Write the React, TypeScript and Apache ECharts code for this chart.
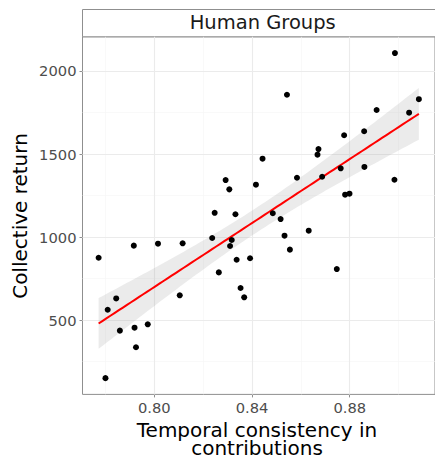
import React, { useEffect, useRef } from "react";
import * as echarts from "echarts";

// Temporal consistency in contributions (x) and collective return (y)
const consistency = [
  0.7772, 0.78, 0.7809, 0.7844, 0.7859, 0.7916, 0.7919, 0.7925, 0.7973, 0.8015,
  0.8104, 0.8116, 0.8237, 0.8247, 0.8264, 0.8292, 0.8307, 0.831, 0.8317, 0.8332,
  0.8337, 0.8353, 0.8368, 0.8392, 0.8416, 0.8443, 0.8485, 0.8517, 0.8533, 0.8543,
  0.8555, 0.8584, 0.8632, 0.8668, 0.8672, 0.8687, 0.8747, 0.8763, 0.8777, 0.8781,
  0.8799, 0.8859, 0.886, 0.891, 0.8983, 0.8985, 0.9043, 0.9083,
];
const collectiveReturn = [
  875, 150, 562, 630, 436, 948, 454, 336, 474, 960,
  649, 962, 994, 1146, 787, 1343, 1287, 946, 982, 1137,
  863, 693, 637, 872, 1315, 1472, 1143, 1108, 1008, 1857,
  924, 1357, 1038, 1496, 1530, 1363, 807, 1414, 1613, 1255,
  1261, 1637, 1422, 1765, 1345, 2108, 1749, 1830,
];

const xTicks = [0.8, 0.84, 0.88];
const xMinorGrid = [0.78, 0.82, 0.86, 0.9];
const yTicks = [500, 1000, 1500, 2000];
const yMinorGrid = [250, 750, 1250, 1750];

const panelTitle = "Human Groups";
const xTitle = "Temporal consistency in\ncontributions";
const yTitle = "Collective return";

const FONT = "DejaVu Sans";

// linear model fit (like geom_smooth(method = "lm")) with 95% CI
function fitLm() {
  const n = consistency.length;
  const xbar = consistency.reduce((a, b) => a + b, 0) / n;
  const ybar = collectiveReturn.reduce((a, b) => a + b, 0) / n;
  let sxx = 0, sxy = 0;
  for (let i = 0; i < n; i++) {
    sxx += (consistency[i] - xbar) ** 2;
    sxy += (consistency[i] - xbar) * (collectiveReturn[i] - ybar);
  }
  const b = sxy / sxx;
  const a = ybar - b * xbar;
  let sse = 0;
  for (let i = 0; i < n; i++) {
    const r = collectiveReturn[i] - (a + b * consistency[i]);
    sse += r * r;
  }
  const s = Math.sqrt(sse / (n - 2));
  const t = 2.0129;
  const xmin = Math.min(...consistency);
  const xmax = Math.max(...consistency);
  const line: number[][] = [];
  const upper: number[][] = [];
  const lower: number[][] = [];
  const steps = 80;
  for (let k = 0; k < steps; k++) {
    const x = xmin + ((xmax - xmin) * k) / (steps - 1);
    const y = a + b * x;
    const se = s * Math.sqrt(1 / n + (x - xbar) ** 2 / sxx);
    line.push([x, y]);
    upper.push([x, y + t * se]);
    lower.push([x, y - t * se]);
  }
  return { line, upper, lower };
}

export default function App() {
  const ref = useRef<HTMLDivElement>(null);
  useEffect(() => {
    if (!ref.current) return;
    const chart = echarts.init(ref.current, null, { renderer: "svg" });
    const { line, upper, lower } = fitLm();

    const major = { color: "#ebebeb", width: 1.1, type: "solid" };
    const minor = { color: "#f5f5f5", width: 0.6, type: "solid" };
    const gridLines = [
      ...xMinorGrid.map((v) => ({ xAxis: v, lineStyle: minor })),
      ...yMinorGrid.map((v) => ({ yAxis: v, lineStyle: minor })),
      ...xTicks.map((v) => ({ xAxis: v, lineStyle: major })),
      ...yTicks.map((v) => ({ yAxis: v, lineStyle: major })),
    ];

    const borderColor = "#8f8f8f";

    chart.setOption({
      animation: false,
      grid: {
        left: 82.5,
        top: 36.8,
        right: -8,
        bottom: 64.6,
        show: true,
        borderColor,
        borderWidth: 1,
        backgroundColor: "#fff",
      },
      xAxis: {
        type: "value",
        min: 0.7706,
        max: 0.9149,
        axisLine: { show: false },
        splitLine: { show: false },
        axisTick: {
          show: true,
          customValues: xTicks,
          length: 3,
          lineStyle: { color: borderColor, width: 1 },
        },
        axisLabel: {
          customValues: xTicks,
          formatter: (v: number) => v.toFixed(2),
          fontSize: 14.7,
          fontFamily: FONT,
          color: "#4d4d4d",
          margin: 6,
        },
      },
      yAxis: {
        type: "value",
        min: 52,
        max: 2206,
        axisLine: { show: false },
        splitLine: { show: false },
        axisTick: {
          show: true,
          customValues: yTicks,
          length: 3,
          lineStyle: { color: borderColor, width: 1 },
        },
        axisLabel: {
          customValues: yTicks,
          formatter: (v: number) => String(v),
          fontSize: 14.7,
          fontFamily: FONT,
          color: "#4d4d4d",
          margin: 6,
        },
      },
      graphic: [
        {
          type: "rect",
          shape: { x: 82.5, y: 9.5, width: 362, height: 27.3 },
          style: { fill: "#ffffff", stroke: borderColor, lineWidth: 1 },
        },
        {
          type: "text",
          x: 262.7,
          y: 22.3,
          style: {
            text: panelTitle,
            fontSize: 19.5,
            fontFamily: FONT,
            fill: "#1a1a1a",
            align: "center",
            verticalAlign: "middle",
          },
        },
        {
          type: "text",
          x: 257,
          y: 439,
          style: {
            text: xTitle,
            fontSize: 20,
            lineHeight: 18,
            fontFamily: FONT,
            fill: "#000",
            align: "center",
            verticalAlign: "middle",
          },
        },
        {
          type: "text",
          x: 20,
          y: 216,
          rotation: Math.PI / 2,
          style: {
            text: yTitle,
            fontSize: 20,
            fontFamily: FONT,
            fill: "#000",
            align: "center",
            verticalAlign: "middle",
          },
        },
      ],
      series: [
        {
          type: "line",
          data: [],
          z: 1,
          silent: true,
          markLine: {
            silent: true,
            z: 1,
            symbol: ["none", "none"],
            label: { show: false },
            emphasis: { disabled: true },
            data: gridLines,
          },
        },
        {
          type: "custom",
          z: 2,
          silent: true,
          clip: false,
          data: [[0.84, 1000]],
          renderItem: (params: any, api: any) => {
            const pts = upper
              .map((p) => api.coord(p))
              .concat(lower.slice().reverse().map((p) => api.coord(p)));
            return {
              type: "polygon",
              shape: { points: pts },
              style: { fill: "rgba(153,153,153,0.2)", stroke: "none" },
            };
          },
        },
        {
          type: "line",
          z: 3,
          data: line,
          showSymbol: false,
          smooth: false,
          lineStyle: { color: "#ff0000", width: 2 },
          silent: true,
        },
        {
          type: "scatter",
          z: 4,
          data: consistency.map((x, i) => [x, collectiveReturn[i]]),
          symbolSize: 6,
          itemStyle: { color: "#000000", opacity: 1 },
        },
      ],
    });
    return () => chart.dispose();
  }, []);
  return (
    <div
      ref={ref}
      style={{ position: "absolute", left: 0, top: 0, width: 435, height: 459 }}
    />
  );
}
